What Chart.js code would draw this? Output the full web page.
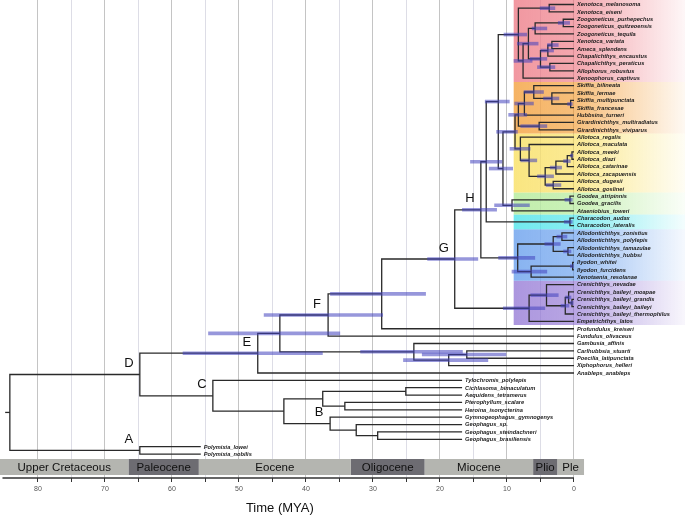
<!DOCTYPE html>
<html><head><meta charset="utf-8">
<script src="https://cdn.jsdelivr.net/npm/chart.js@4/dist/chart.umd.min.js"></script>
<style>html,body{margin:0;padding:0;background:#fff;}#wrap{width:685px;height:515px;}</style>
</head><body><div id="wrap"><canvas id="c" width="685" height="515"></canvas></div>
<script>
// ---------------- data ----------------
const taxa = [
 'Xenotoca_melanosoma','Xenotoca_eiseni','Zoogoneticus_purhepechus','Zoogoneticus_quitzeoensis',
 'Zoogoneticus_tequila','Xenotoca_variata','Ameca_splendens','Chapalichthys_encaustus',
 'Chapalichthys_peraticus','Allophorus_robustus','Xenoophorus_captivus','Skiffia_bilineata',
 'Skiffia_lermae','Skiffia_multipunctata','Skiffia_francesae','Hubbsina_turneri',
 'Girardinichthys_multiradiatus','Girardinichthys_viviparus','Allotoca_regalis','Allotoca_maculata',
 'Allotoca_meeki','Allotoca_diazi','Allotoca_catarinae','Allotoca_zacapuensis',
 'Allotoca_dugesii','Allotoca_goslinei','Goodea_atripinnis','Goodea_gracilis',
 'Ataeniobius_toweri','Characodon_audax','Characodon_lateralis','Allodontichthys_zonistius',
 'Allodontichthys_polylepis','Allodontichthys_tamazulae','Allodontichthys_hubbsi','Ilyodon_whitei',
 'Ilyodon_furcidens','Xenotaenia_resolanae','Crenichthys_nevadae','Crenichthys_baileyi_moapae',
 'Crenichthys_baileyi_grandis','Crenichthys_baileyi_baileyi','Crenichthys_baileyi_thermophilus','Empetrichthys_latos',
 'Profundulus_kreiseri','Fundulus_olivaceus','Gambusia_affinis','Carlhubbsia_stuarti',
 'Poecilia_latipunctata','Xiphophorus_helleri','Anableps_anableps','Tylochromis_polylepis',
 'Cichlasoma_bimaculatum','Aequidens_tetramerus','Pterophyllum_scalare','Heroina_isonycterina',
 'Gymnogeophagus_gymnogenys','Geophagus_sp.','Geophagus_steindachneri','Geophagus_brasiliensis',
 'Polymixia_lowei','Polymixia_nobilis'
];
// [first tip, last tip, tip age (MYA)]
const tipAgeRanges = [[0, 50, 0], [51, 59, 16.7], [60, 61, 55.7]];
// [node id, child 1, child 2, age (MYA)] ; numbers are tip indices
const nodes = [
 ['a1',0,1,3.7],['a2',2,3,1.6],['a3','a2',4,5.8],['b1',5,6,3.3],['b2','b1',7,3.9],['b3',8,9,3.6],
 ['b4','b2','b3',5.0],['a5','a3','b4',6.8],['a6','a5',10,7.6],['red','a1','a6',8.3],
 ['c1',13,14,0.5],['c2',12,'c1',3.3],['c3',11,'c2',6.0],['c4','c3',15,7.4],['c5',16,17,5.2],['orange','c4','c5',8.3],
 ['d1',20,21,0.3],['d2','d1',22,1.0],['d3','d2',23,2.7],['d4',24,25,3.1],['d5','d3','d4',4.3],['d6',19,'d5',6.7],['yellow',18,'d6',8.0],
 ['L','orange','yellow',8.8],['goodea',26,27,0.6],['green','goodea',28,9.25],['K','L','green',10.6],
 ['J','red','K',11.3],['char',29,30,0.6],['I','J','char',13.1],
 ['e1',31,32,1.8],['e2',33,34,0.9],['e3','e1','e2',3.1],['e4',35,36,0.2],['e5','e4',37,6.4],['blue','e3','e5',8.4],
 ['H','I','blue',13.9],
 ['f1',40,41,0.3],['f2',39,'f1',0.8],['f3','f2',42,1.3],['f4',38,'f3',4.1],['purple','f4',43,6.7],
 ['G','H','purple',17.8],['N','G',44,28.7],['F','N',45,36.7],
 ['R',47,48,16.0],['Q','R',49,18.7],['P',46,'Q',23.9],['E2','F','P',43.9],['E','E2',50,47.2],
 ['g1',52,53,25.1],['g2',54,55,34.2],['g3','g1','g2',37.5],['g4',58,59,29.3],['g5',57,'g4',32.5],
 ['g6',56,'g5',36.4],['g7','g3','g6',43.3],['C',51,'g7',53.9],
 ['D','E','C',64.8],['A',60,61,64.8],['root','D','A',84.2]
];
const rootStubAge = 84.9;
// 95% HPD intervals [node, older, younger]
const hpd = [
 ['E',58.4,37.5],['E2',54.6,34.9],['F',46.3,28.5],['N',36.4,22.1],['G',21.9,14.3],['H',16.7,11.5],
 ['I',15.5,10.7],['J',13.3,9.6],['K',12.7,9.1],['L',11.6,8.4],['P',31.9,16.6],['Q',25.5,12.8],['R',22.7,10.1],
 ['red',10.5,7.0],['a6',9.0,6.2],['a5',8.5,5.3],['a3',6.3,4.0],['a2',2.4,0.6],['a1',5.1,2.8],
 ['b4',6.6,4.0],['b2',5.0,3.0],['b1',4.0,2.3],['b3',5.5,2.8],
 ['orange',9.8,7.0],['c4',8.9,6.0],['c3',7.5,4.5],['c2',4.6,2.2],['c1',1.0,0.2],['c5',8.0,4.0],
 ['yellow',9.6,6.5],['d6',8.0,5.5],['d5',5.5,3.0],['d4',4.2,1.9],['d3',3.6,1.8],['d2',1.6,0.5],['d1',0.6,0.1],
 ['green',11.9,6.6],['goodea',1.4,0.2],['char',1.5,0.2],
 ['blue',11.3,5.8],['e3',4.4,2.0],['e1',2.6,1.0],['e2',1.6,0.4],['e5',9.3,4.0],['e4',0.6,0.05],
 ['purple',10.6,4.3],['f4',6.5,2.3],['f3',2.0,0.7],['f2',1.3,0.4],['f1',0.6,0.1]
];
// clade bands [name, first tip, last tip]
const clades = [['red',0,10],['orange',11,17],['yellow',18,25],['green',26,28],['cyan',29,30],['blue',31,37],['purple',38,43]];
const nodeLetters = [['A','A'],['B','g6'],['C','C'],['D','D'],['E','E'],['F','F'],['G','G'],['H','H']];
// geological periods [name, start, end] (MYA)
const periods = [['Upper Cretaceous',85.67,66.5],['Paleocene',66.5,56.0],['Eocene',56.0,33.3],
 ['Oligocene',33.3,22.3],['Miocene',22.3,6.1],['Plio',6.1,2.5],['Ple',2.5,-1.5]];
const tickValues = [0,5,10,15,20,25,30,35,40,45,50,55,60,65,70,75,80];
const tickLabels = [0,10,20,30,40,50,60,70,80];
const axisTitle = 'Time (MYA)';

// ---------------- layout / style constants ----------------
const X_MAX = 85.67, X_MIN = -16.57, Y_MIN = -0.61, Y_MAX = 64.25;
const BAND_FROM = 9.0, PERIOD_TOP = 61.67, PERIOD_BOT = 63.84, AXIS_FROM = 85.3, TITLE_AT = 43.9;
const cladeColors = {red:[236,112,124],orange:[242,150,40],yellow:[248,220,80],green:[170,232,140],
 cyan:[60,225,232],blue:[90,150,235],purple:[140,110,210]};
const periodColors = ['#b4b5b0','#6d6c72'];
const LINE = '#2a2a2a', HPD = 'rgba(66,66,190,0.55)';

// ---------------- build ----------------
function tipAge(i){ for (const [a,b,t] of tipAgeRanges) if (i>=a && i<=b) return t; return 0; }
const key = c => typeof c === 'number' ? 't'+c : c;
const pos = {};
taxa.forEach((n,i)=>{ pos['t'+i] = {x: tipAge(i), y: i}; });
nodes.forEach(([id,c1,c2,t])=>{ pos[id] = {x: t, y: (pos[key(c1)].y + pos[key(c2)].y)/2}; });

const datasets = [];
const rgba = (c,a) => `rgba(${c[0]},${c[1]},${c[2]},${a})`;
clades.forEach(([name,f,l])=>{
  const top = f === 0 ? Y_MIN : f - 0.5, bot = l + 0.5, c = cladeColors[name];
  datasets.push({ order: 40, fill: 'shape', borderWidth: 0, borderColor: 'rgba(0,0,0,0)',
    data: [{x:BAND_FROM,y:top},{x:X_MIN,y:top},{x:X_MIN,y:bot},{x:BAND_FROM,y:bot},{x:BAND_FROM,y:top}],
    backgroundColor: (ctx) => {
      const ch = ctx.chart; if (!ch.chartArea || !ch.scales.x) return rgba(c,0.7);
      const xs = ch.scales.x, x0 = xs.getPixelForValue(BAND_FROM), x1 = xs.getPixelForValue(0), x2 = xs.getPixelForValue(X_MIN);
      const g = ch.ctx.createLinearGradient(x0,0,x2,0);
      g.addColorStop(0, rgba(c,0.72)); g.addColorStop((x1-x0)/(x2-x0), rgba(c,0.62)); g.addColorStop(1, rgba(c,0.06));
      return g;
    }});
});
periods.forEach(([name,s,e],k)=>{
  datasets.push({ order: 30, fill: 'shape', borderWidth: 0, borderColor: 'rgba(0,0,0,0)', backgroundColor: periodColors[k%2],
    data: [{x:s,y:PERIOD_TOP},{x:e,y:PERIOD_TOP},{x:e,y:PERIOD_BOT},{x:s,y:PERIOD_BOT},{x:s,y:PERIOD_TOP}]});
});
nodes.forEach(([id,c1,c2,t])=>{
  const p1 = pos[key(c1)], p2 = pos[key(c2)];
  datasets.push({ order: 20, borderColor: LINE, borderWidth: 1.3, fill: false,
    data: [{x:p1.x,y:p1.y},{x:t,y:p1.y},{x:t,y:p2.y},{x:p2.x,y:p2.y}]});
});
datasets.push({ order: 20, borderColor: LINE, borderWidth: 1.3, fill: false,
  data: [{x:rootStubAge,y:pos.root.y},{x:pos.root.x,y:pos.root.y}]});
hpd.forEach(([id,hi,lo])=>{
  datasets.push({ order: 10, borderColor: HPD, borderWidth: 3.6, fill: false,
    data: [{x:hi,y:pos[id].y},{x:lo,y:pos[id].y}]});
});
datasets.push({ order: 5, borderColor: '#333', borderWidth: 1.6, fill: false, clip: false,
  data: [{x:AXIS_FROM,y:Y_MAX},{x:0,y:Y_MAX}]});

const textPlugin = {
  id: 'treeText',
  afterDatasetsDraw(chart){
    const {ctx, scales:{x, y}} = chart;
    ctx.save();
    ctx.fillStyle = '#1c1c1c'; ctx.textBaseline = 'middle'; ctx.textAlign = 'left';
    ctx.font = 'italic bold 5.7px "Liberation Sans", Arial, sans-serif';
    taxa.forEach((n,i)=> ctx.fillText(n, x.getPixelForValue(tipAge(i)) + 3, y.getPixelForValue(i) + 0.3));
    ctx.font = '13px "Liberation Sans", Arial, sans-serif'; ctx.textAlign = 'center'; ctx.fillStyle = '#111';
    nodeLetters.forEach(([L,id])=> ctx.fillText(L, x.getPixelForValue(pos[id].x) - 11, y.getPixelForValue(pos[id].y) - 11));
    ctx.font = '11.5px "Liberation Sans", Arial, sans-serif';
    const py = (y.getPixelForValue(PERIOD_TOP) + y.getPixelForValue(PERIOD_BOT))/2 + 0.5;
    periods.forEach(([name,s,e])=> ctx.fillText(name, (x.getPixelForValue(s)+x.getPixelForValue(e))/2, py));
    ctx.font = '13px "Liberation Sans", Arial, sans-serif';
    ctx.fillText(axisTitle, x.getPixelForValue(TITLE_AT), chart.chartArea.bottom + 30);
    ctx.restore();
  }
};

new Chart(document.getElementById('c'), {
  type: 'line',
  data: { datasets },
  options: {
    responsive: false, animation: false, devicePixelRatio: 1,
    events: [],
    layout: { padding: { left: 0, right: 0, top: 0, bottom: 18.6 } },
    elements: { point: { radius: 0, hoverRadius: 0 }, line: { tension: 0, borderJoinStyle: 'miter', borderCapStyle: 'butt' } },
    plugins: { legend: { display: false }, tooltip: { enabled: false } },
    scales: {
      x: { type: 'linear', reverse: true, min: X_MIN, max: X_MAX, position: 'bottom',
        afterBuildTicks: (s) => { s.ticks = tickValues.map(v => ({value: v})); },
        border: { display: false },
        grid: { color: (c) => (c.tick && c.tick.value % 10 === 0) ? '#c4c4c4' : '#dddde6', lineWidth: 1,
                drawTicks: true, tickLength: 4, tickColor: '#333', tickWidth: 1 },
        ticks: { autoSkip: false, maxRotation: 0, padding: 3, color: '#555',
                 font: { size: 7, family: '"Liberation Sans", Arial, sans-serif' },
                 callback: (v) => tickLabels.includes(v) ? String(v) : '' } },
      y: { type: 'linear', reverse: true, min: Y_MIN, max: Y_MAX, display: false }
    }
  },
  plugins: [textPlugin]
});
</script></body></html>
